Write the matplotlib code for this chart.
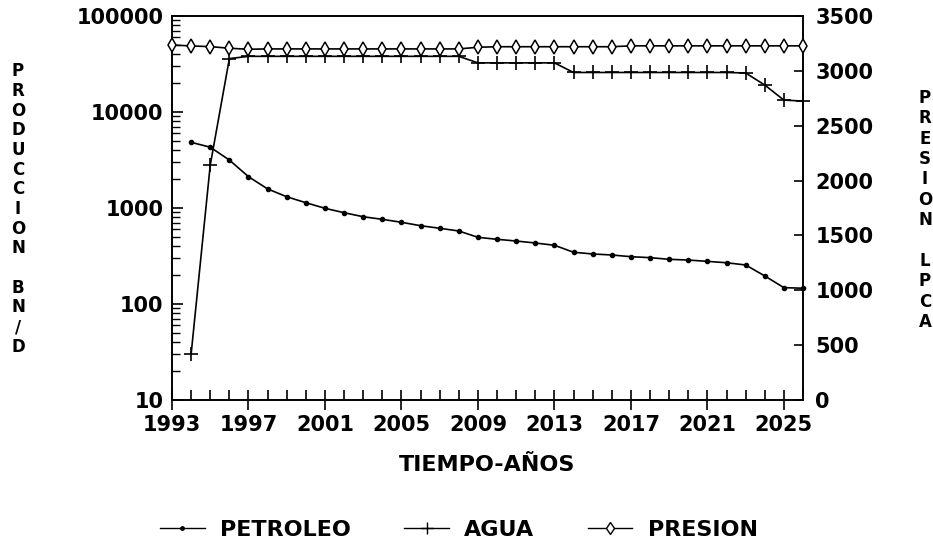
import matplotlib
matplotlib.use("Agg")
import matplotlib.pyplot as plt
from matplotlib.ticker import FixedLocator, LogLocator, FuncFormatter, NullFormatter
from matplotlib.lines import Line2D

# ---- data ----
years_p = list(range(1993, 2027))
presion = [3236, 3227, 3221, 3206, 3197, 3200, 3200, 3200, 3200, 3200, 3200,
           3200, 3200, 3200, 3200, 3200, 3215, 3220, 3220, 3220, 3220, 3220,
           3220, 3220, 3228, 3228, 3228, 3228, 3228, 3228, 3228, 3228, 3228, 3228]

years = list(range(1994, 2027))
petroleo = [4830, 4300, 3160, 2120, 1580, 1310, 1135, 993, 893, 811, 762,
            710, 654, 615, 576, 495, 472, 453, 432, 409, 346, 332, 324,
            311, 304, 292, 287, 278, 269, 255, 196, 148, 146]
agua = [30, 2800, 36000, 38000, 38000, 38000, 38000, 38000, 38000, 38000,
        38000, 38000, 38000, 38000, 38000, 32500, 32500, 32500, 32500, 32500,
        25800, 25800, 25800, 25800, 25800, 25800, 25800, 25800, 25800, 25500,
        19100, 13300, 13000]

xticks_major = list(range(1993, 2026, 4))
left_ticks = [10, 100, 1000, 10000, 100000]
right_ticks = list(range(0, 3501, 500))

FONT = "DejaVu Sans"
plt.rcParams['font.family'] = [FONT]
plt.rcParams['font.weight'] = 'bold'

fig = plt.figure(figsize=(9.33, 5.49), dpi=100)
ax = fig.add_axes([172/933, 1-400/549, (803-172)/933, (400-16)/549])
ax2 = ax.twinx()

lw = 1.2
ax.plot(years, petroleo, color='black', lw=lw, marker='o', ms=3, clip_on=False, zorder=3)
ax.plot(years, agua, color='black', lw=lw, marker='+', ms=10, mew=1.2, clip_on=False, zorder=3)
ax2.plot(years_p, presion, color='black', lw=lw, marker='d', ms=7, mew=1.1,
         mfc='white', clip_on=False, zorder=3)

ax.set_yscale('log')
ax.set_ylim(10, 100000)
ax.set_xlim(1993, 2026)
ax2.set_ylim(0, 3500)

ax.xaxis.set_major_locator(FixedLocator(xticks_major))
ax.xaxis.set_minor_locator(FixedLocator(list(range(1993, 2027))))
ax.yaxis.set_major_locator(FixedLocator(left_ticks))
ax.yaxis.set_minor_locator(LogLocator(base=10, subs=range(2, 10)))
ax.yaxis.set_major_formatter(FuncFormatter(lambda v, p: f"{int(round(v))}"))
ax.yaxis.set_minor_formatter(NullFormatter())
ax2.yaxis.set_major_locator(FixedLocator(right_ticks))

fs = 15
ax.tick_params(axis='x', which='major', direction='inout', length=14, width=1.2,
               labelsize=fs, pad=4)
ax.tick_params(axis='x', which='minor', direction='in', length=7, width=1.2)
ax.tick_params(axis='y', which='major', direction='in', length=8, width=1.2,
               labelsize=fs, pad=6)
ax.tick_params(axis='y', which='minor', direction='in', length=5.5, width=1.0)
ax2.tick_params(axis='y', which='major', direction='in', length=6.5, width=1.2,
                labelsize=fs, pad=9)
for a in (ax, ax2):
    for s in a.spines.values():
        s.set_linewidth(1.2)
for lab in ax.get_xticklabels() + ax.get_yticklabels() + ax2.get_yticklabels():
    lab.set_fontweight('bold')

ax.set_xlabel("TIEMPO-AÑOS", fontsize=16, fontweight='bold', labelpad=14)

fig.text(18/933, 1-209/549, "P\nR\nO\nD\nU\nC\nC\nI\nO\nN\n\nB\nN\n/\nD",
         ha='center', va='center', fontsize=12, fontweight='bold', linespacing=1.12)
fig.text(925/933, 1-210/549, "P\nR\nE\nS\nI\nO\nN\n\nL\nP\nC\nA",
         ha='center', va='center', fontsize=12, fontweight='bold', linespacing=1.17)

handles = [
    Line2D([], [], color='black', lw=1.0, marker='o', ms=2.5),
    Line2D([], [], color='black', lw=1.0, marker='+', ms=9, mew=1.0),
    Line2D([], [], color='black', lw=1.0, marker='d', ms=6, mew=1.0, mfc='white'),
]
fig.legend(handles, ["PETROLEO", "AGUA", "PRESION"], loc='center',
           bbox_to_anchor=(459/933, 1-530/549), ncol=3, frameon=False,
           prop={'family': FONT, 'weight': 'bold', 'size': 16},
           handlelength=2.0, columnspacing=2.4, handletextpad=0.7)

fig.savefig("out.png", dpi=100)
